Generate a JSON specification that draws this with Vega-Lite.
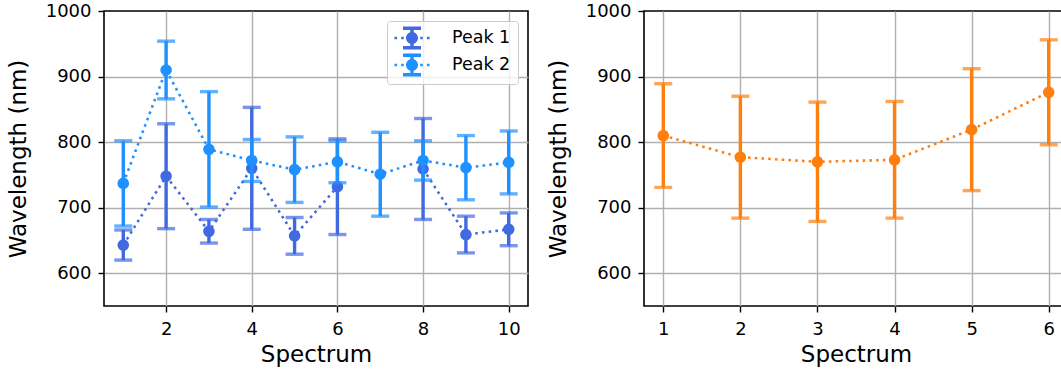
{
  "$schema": "https://vega.github.io/schema/vega-lite/v6.json",
  "padding": {"left": 6, "top": 1, "right": 0, "bottom": 0},
  "spacing": 17,
  "resolve": {"scale": {"color": "independent"}, "legend": {"color": "independent"}},
  "config": {
    "font": "DejaVu Sans",
    "view": {"stroke": "black", "strokeWidth": 1.6},
    "axis": {
      "domain": false, "grid": true, "gridColor": "#b0b0b0", "gridWidth": 1.4,
      "tickColor": "black", "tickWidth": 1.4, "tickSize": 6,
      "labelFont": "DejaVu Sans", "labelFontSize": 18, "labelColor": "black",
      "labelFlush": false, "labelOverlap": false, "format": "d",
      "titleFont": "DejaVu Sans", "titleFontSize": 23, "titleFontWeight": "normal", "titleColor": "black"
    },
    "axisY": {"titlePadding": 14.5, "labelPadding": 7},
    "axisX": {"titlePadding": 5, "labelPadding": 8}
  },
  "datasets": {
    "left": [
      {"spectrum": 1, "peak": "Peak 1", "wl": 643, "err": 23},
      {"spectrum": 2, "peak": "Peak 1", "wl": 748, "err": 80},
      {"spectrum": 3, "peak": "Peak 1", "wl": 664, "err": 18},
      {"spectrum": 4, "peak": "Peak 1", "wl": 760, "err": 93},
      {"spectrum": 5, "peak": "Peak 1", "wl": 657, "err": 28},
      {"spectrum": 6, "peak": "Peak 1", "wl": 732, "err": 73},
      {"spectrum": 7, "peak": "Peak 1", "wl": null, "err": null},
      {"spectrum": 8, "peak": "Peak 1", "wl": 759, "err": 77},
      {"spectrum": 9, "peak": "Peak 1", "wl": 659, "err": 28},
      {"spectrum": 10, "peak": "Peak 1", "wl": 667, "err": 25},
      {"spectrum": 1, "peak": "Peak 2", "wl": 737, "err": 65},
      {"spectrum": 2, "peak": "Peak 2", "wl": 910, "err": 44},
      {"spectrum": 3, "peak": "Peak 2", "wl": 789, "err": 88},
      {"spectrum": 4, "peak": "Peak 2", "wl": 772, "err": 32},
      {"spectrum": 5, "peak": "Peak 2", "wl": 758, "err": 50},
      {"spectrum": 6, "peak": "Peak 2", "wl": 770, "err": 32},
      {"spectrum": 7, "peak": "Peak 2", "wl": 751, "err": 64},
      {"spectrum": 8, "peak": "Peak 2", "wl": 772, "err": 30},
      {"spectrum": 9, "peak": "Peak 2", "wl": 761, "err": 49},
      {"spectrum": 10, "peak": "Peak 2", "wl": 769, "err": 48}
    ],
    "right": [
      {"spectrum": 1, "wl": 810, "err": 79},
      {"spectrum": 2, "wl": 777, "err": 93},
      {"spectrum": 3, "wl": 770, "err": 91},
      {"spectrum": 4, "wl": 773, "err": 89},
      {"spectrum": 5, "wl": 819, "err": 93},
      {"spectrum": 6, "wl": 876, "err": 80}
    ]
  },
  "hconcat": [
    {
      "width": 424,
      "height": 295,
      "data": {"name": "left"},
      "encoding": {
        "x": {"field": "spectrum", "type": "quantitative", "title": "Spectrum",
              "scale": {"domain": [0.55, 10.45], "nice": false, "zero": false},
              "axis": {"values": [2, 4, 6, 8, 10]}},
        "y": {"field": "wl", "type": "quantitative", "title": "Wavelength (nm)",
              "scale": {"domain": [550, 1000], "nice": false, "zero": false},
              "axis": {"values": [600, 700, 800, 900, 1000],
                       "gridOpacity": {"condition": {"test": "datum.value >= 1000", "value": 0}, "value": 1}}},
        "color": {"field": "peak", "type": "nominal",
                  "scale": {"domain": ["Peak 1", "Peak 2"], "range": ["#4169E1", "#1E90FF"]},
                  "legend": {
                    "title": null, "orient": "top-right", "offset": 10,
                    "symbolType": "M -0.6 0 A 0.6 0.6 0 1 1 0.6 0 A 0.6 0.6 0 1 1 -0.6 0 Z M -0.17 -0.97 L 0.17 -0.97 L 0.17 0.97 L -0.17 0.97 Z M -0.9 -1.14 L 0.9 -1.14 L 0.9 -0.8 L -0.9 -0.8 Z M -0.9 0.8 L 0.9 0.8 L 0.9 1.14 L -0.9 1.14 Z M -1.75 -0.13 L -1.5 -0.13 L -1.5 0.13 L -1.75 0.13 Z M -1.08 -0.13 L -0.83 -0.13 L -0.83 0.13 L -1.08 0.13 Z M 0.83 -0.13 L 1.08 -0.13 L 1.08 0.13 L 0.83 0.13 Z M 1.5 -0.13 L 1.75 -0.13 L 1.75 0.13 L 1.5 0.13 Z",
                    "symbolSize": 400, "symbolStrokeWidth": 0, "symbolOpacity": 1,
                    "symbolOffset": 8, "labelOffset": 30,
                    "labelFont": "DejaVu Sans", "labelFontSize": 17.5, "labelColor": "black",
                    "padding": 7, "rowPadding": 3,
                    "fillColor": "rgba(255,255,255,0.8)", "strokeColor": "#cccccc", "cornerRadius": 3
                  }}
      },
      "layer": [
        {"transform": [{"filter": "datum.peak === 'Peak 1'"}],
         "mark": {"type": "line", "strokeDash": [2.55, 4.2], "strokeWidth": 2.55}},
        {"transform": [{"filter": "datum.peak === 'Peak 1' && isValid(datum.wl)"}],
         "mark": {"type": "errorbar", "ticks": true, "size": 18, "thickness": 3.4},
         "encoding": {"yError": {"field": "err"}}},
        {"transform": [{"filter": "datum.peak === 'Peak 1' && isValid(datum.wl)"}],
         "mark": {"type": "circle", "size": 135, "opacity": 1}},
        {"transform": [{"filter": "datum.peak === 'Peak 2'"}],
         "mark": {"type": "line", "strokeDash": [2.55, 4.2], "strokeWidth": 2.55}},
        {"transform": [{"filter": "datum.peak === 'Peak 2'"}],
         "mark": {"type": "errorbar", "ticks": true, "size": 18, "thickness": 3.4},
         "encoding": {"yError": {"field": "err"}}},
        {"transform": [{"filter": "datum.peak === 'Peak 2'"}],
         "mark": {"type": "circle", "size": 135, "opacity": 1}}
      ]
    },
    {
      "width": 424,
      "height": 295,
      "data": {"name": "right"},
      "encoding": {
        "x": {"field": "spectrum", "type": "quantitative", "title": "Spectrum",
              "scale": {"domain": [0.75, 6.25], "nice": false, "zero": false},
              "axis": {"values": [1, 2, 3, 4, 5, 6]}},
        "y": {"field": "wl", "type": "quantitative", "title": "Wavelength (nm)",
              "scale": {"domain": [550, 1000], "nice": false, "zero": false},
              "axis": {"values": [600, 700, 800, 900, 1000],
                       "gridOpacity": {"condition": {"test": "datum.value >= 1000", "value": 0}, "value": 1}}}
      },
      "layer": [
        {"mark": {"type": "line", "strokeDash": [2.55, 4.2], "strokeWidth": 2.55, "color": "#ff7f0e"}},
        {"mark": {"type": "errorbar", "ticks": true, "size": 18, "thickness": 3.4, "color": "#ff7f0e"},
         "encoding": {"yError": {"field": "err"}}},
        {"mark": {"type": "circle", "size": 135, "opacity": 1, "color": "#ff7f0e"}}
      ]
    }
  ]
}
